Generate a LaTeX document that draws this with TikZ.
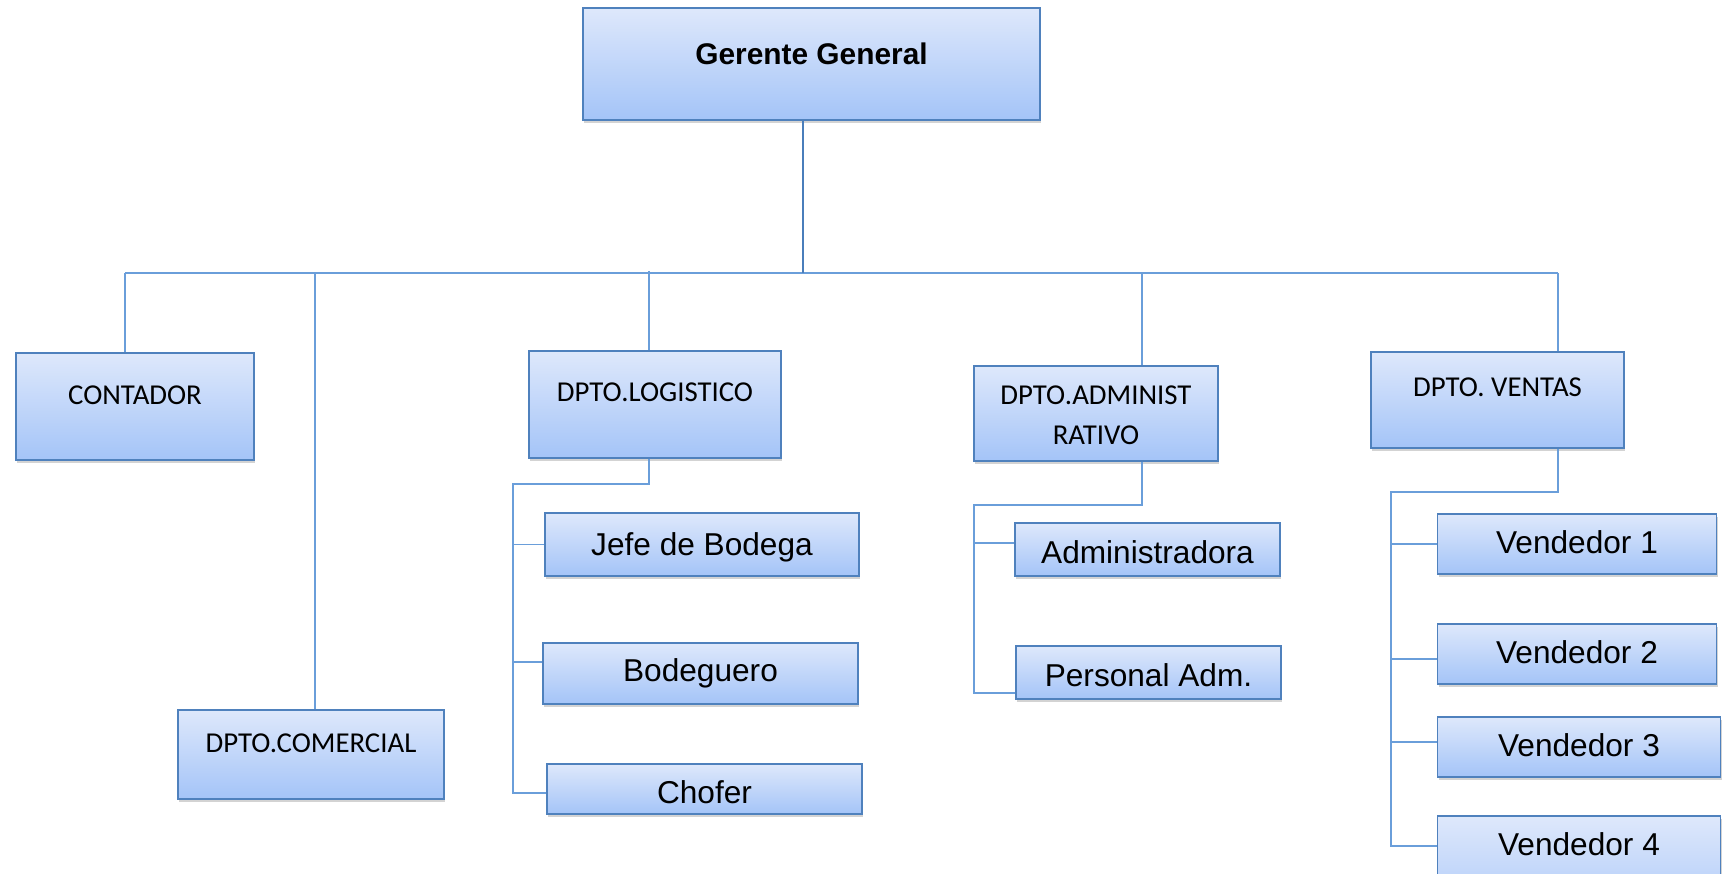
\documentclass[tikz,border=0pt]{standalone}
\usepackage{fontspec}
\usepackage{tikz}
\usetikzlibrary{shadows}
\newfontfamily\arialfont{Liberation Sans}
\newfontfamily\calibrifont{Carlito}
\definecolor{boxline}{HTML}{4F81BD}
\definecolor{boxtop}{HTML}{DEE8FB}
\definecolor{boxbottom}{HTML}{A4C4F8}
\definecolor{linkline}{HTML}{6A9EDA}
\definecolor{stemline}{HTML}{4A7EBB}

\begin{document}
\begin{tikzpicture}[x=0.02cm, y=-0.02cm,
  box/.style={draw=boxline, line width=1pt, top color=boxtop, bottom color=boxbottom,
    drop shadow={shadow xshift=0.6pt, shadow yshift=-1.8pt, opacity=0.35},
    anchor=north, inner xsep=2pt, inner ysep=0pt, align=center},
  dept/.style={box, font=\calibrifont\fontsize{16.4}{22.7}\selectfont},
  staff/.style={box, font=\arialfont\fontsize{18}{21.6}\selectfont, text height=0.82cm},
  link/.style={draw=linkline, line width=0.8pt},
  mainlink/.style={draw=stemline, line width=1.2pt}]
\useasboundingbox (0,0) rectangle (1728,874);

% bus and taps
\coordinate (top) at (803,273);
\coordinate (busleft) at (125,273);
\coordinate (busright) at (1558,273);
\coordinate (tcom) at (315,273);
\coordinate (tlog) at (649,271);
\coordinate (tadm) at (1142,273);
\coordinate (lhook) at (513,484);
\coordinate (ahook) at (974,505);
\coordinate (vhook) at (1391,492);

% top level
\node[box, font=\arialfont\bfseries\fontsize{17}{20}\selectfont, minimum width=9.14cm,
  text height=1.14cm, text depth=1.10cm] (gerente) at (811.5,7) {Gerente General};

\node[dept, minimum width=4.76cm, text height=1.04cm, text depth=1.10cm] (contador) at (135,352) {CONTADOR};
\node[dept, minimum width=5.04cm, text height=1.02cm, text depth=1.12cm] (logistico) at (655,350) {DPTO.LOGISTICO};
\node[dept, minimum width=4.88cm, text height=1.58cm, text depth=0.32cm] (admin) at (1096,365) {DPTO.ADMINIST\\RATIVO};
\node[dept, minimum width=5.06cm, text height=0.90cm, text depth=1.02cm] (ventas) at (1497.5,351) {DPTO. VENTAS};
\node[dept, minimum width=5.32cm, text height=0.86cm, text depth=0.92cm] (comercial) at (311,709) {DPTO.COMERCIAL};

% logistica
\node[staff, minimum width=6.28cm, text height=0.86cm, text depth=0.40cm] (jefe) at (702,512) {Jefe de Bodega};
\node[staff, minimum width=6.30cm, text height=0.78cm, text depth=0.44cm] (bodeguero) at (700.5,642) {Bodeguero};
\node[staff, minimum width=6.30cm, text height=0.80cm, text depth=0.20cm] (chofer) at (704.5,763) {Chofer};

% administracion
\node[staff, minimum width=5.30cm, text depth=0.24cm] (administradora) at (1147.5,522) {Administradora};
\node[staff, minimum width=5.30cm, text depth=0.24cm] (personal) at (1148.5,645) {Personal Adm.};

% ventas
\node[staff, minimum width=5.58cm, text height=0.80cm, text depth=0.40cm] (v1) at (1577,513) {Vendedor 1};
\node[staff, minimum width=5.58cm, text height=0.80cm, text depth=0.40cm] (v2) at (1577,623) {Vendedor 2};
\node[staff, minimum width=5.66cm, text height=0.80cm, text depth=0.40cm] (v3) at (1579,716) {Vendedor 3};
\node[staff, minimum width=5.66cm, text height=0.80cm, text depth=1.60cm] (v4) at (1579,815) {Vendedor 4};

\coordinate (bodlink) at ([yshift=0.23cm]bodeguero.west);
\coordinate (chlink) at ([yshift=-0.08cm]chofer.west);
\coordinate (admlink) at ([yshift=0.13cm]administradora.west);
\coordinate (perlink) at ([yshift=-0.41cm]personal.west);
\coordinate (v2link) at ([yshift=-0.10cm]v2.west);
\coordinate (v3link) at ([yshift=0.10cm]v3.west);
\coordinate (v4link) at ([yshift=0.60cm]v4.west);

% connectors
\draw[link] (busleft) -- (busright);
\draw[link] (busleft) -- (busleft |- contador.north);
\draw[link] (tcom) -- (tcom |- comercial.north);
\draw[link] (tlog) -- (tlog |- logistico.north);
\draw[link] (tadm) -- (tadm |- admin.north);
\draw[link] (busright) -- (busright |- ventas.north);
\draw[mainlink] (gerente.south -| top) -- (top);

\draw[link] (tlog |- logistico.south) -- (tlog |- lhook) -- (lhook) -- (lhook |- chlink) -- (chlink);
\draw[link] (lhook |- jefe.west) -- (jefe.west);
\draw[link] (lhook |- bodlink) -- (bodlink);

\draw[link] (tadm |- admin.south) -- (tadm |- ahook) -- (ahook) -- (ahook |- perlink) -- (perlink);
\draw[link] (ahook |- admlink) -- (admlink);

\draw[link] (busright |- ventas.south) -- (busright |- vhook) -- (vhook) -- (vhook |- v4link) -- (v4link);
\draw[link] (vhook |- v1.west) -- (v1.west);
\draw[link] (vhook |- v2link) -- (v2link);
\draw[link] (vhook |- v3link) -- (v3link);
\end{tikzpicture}
\end{document}
